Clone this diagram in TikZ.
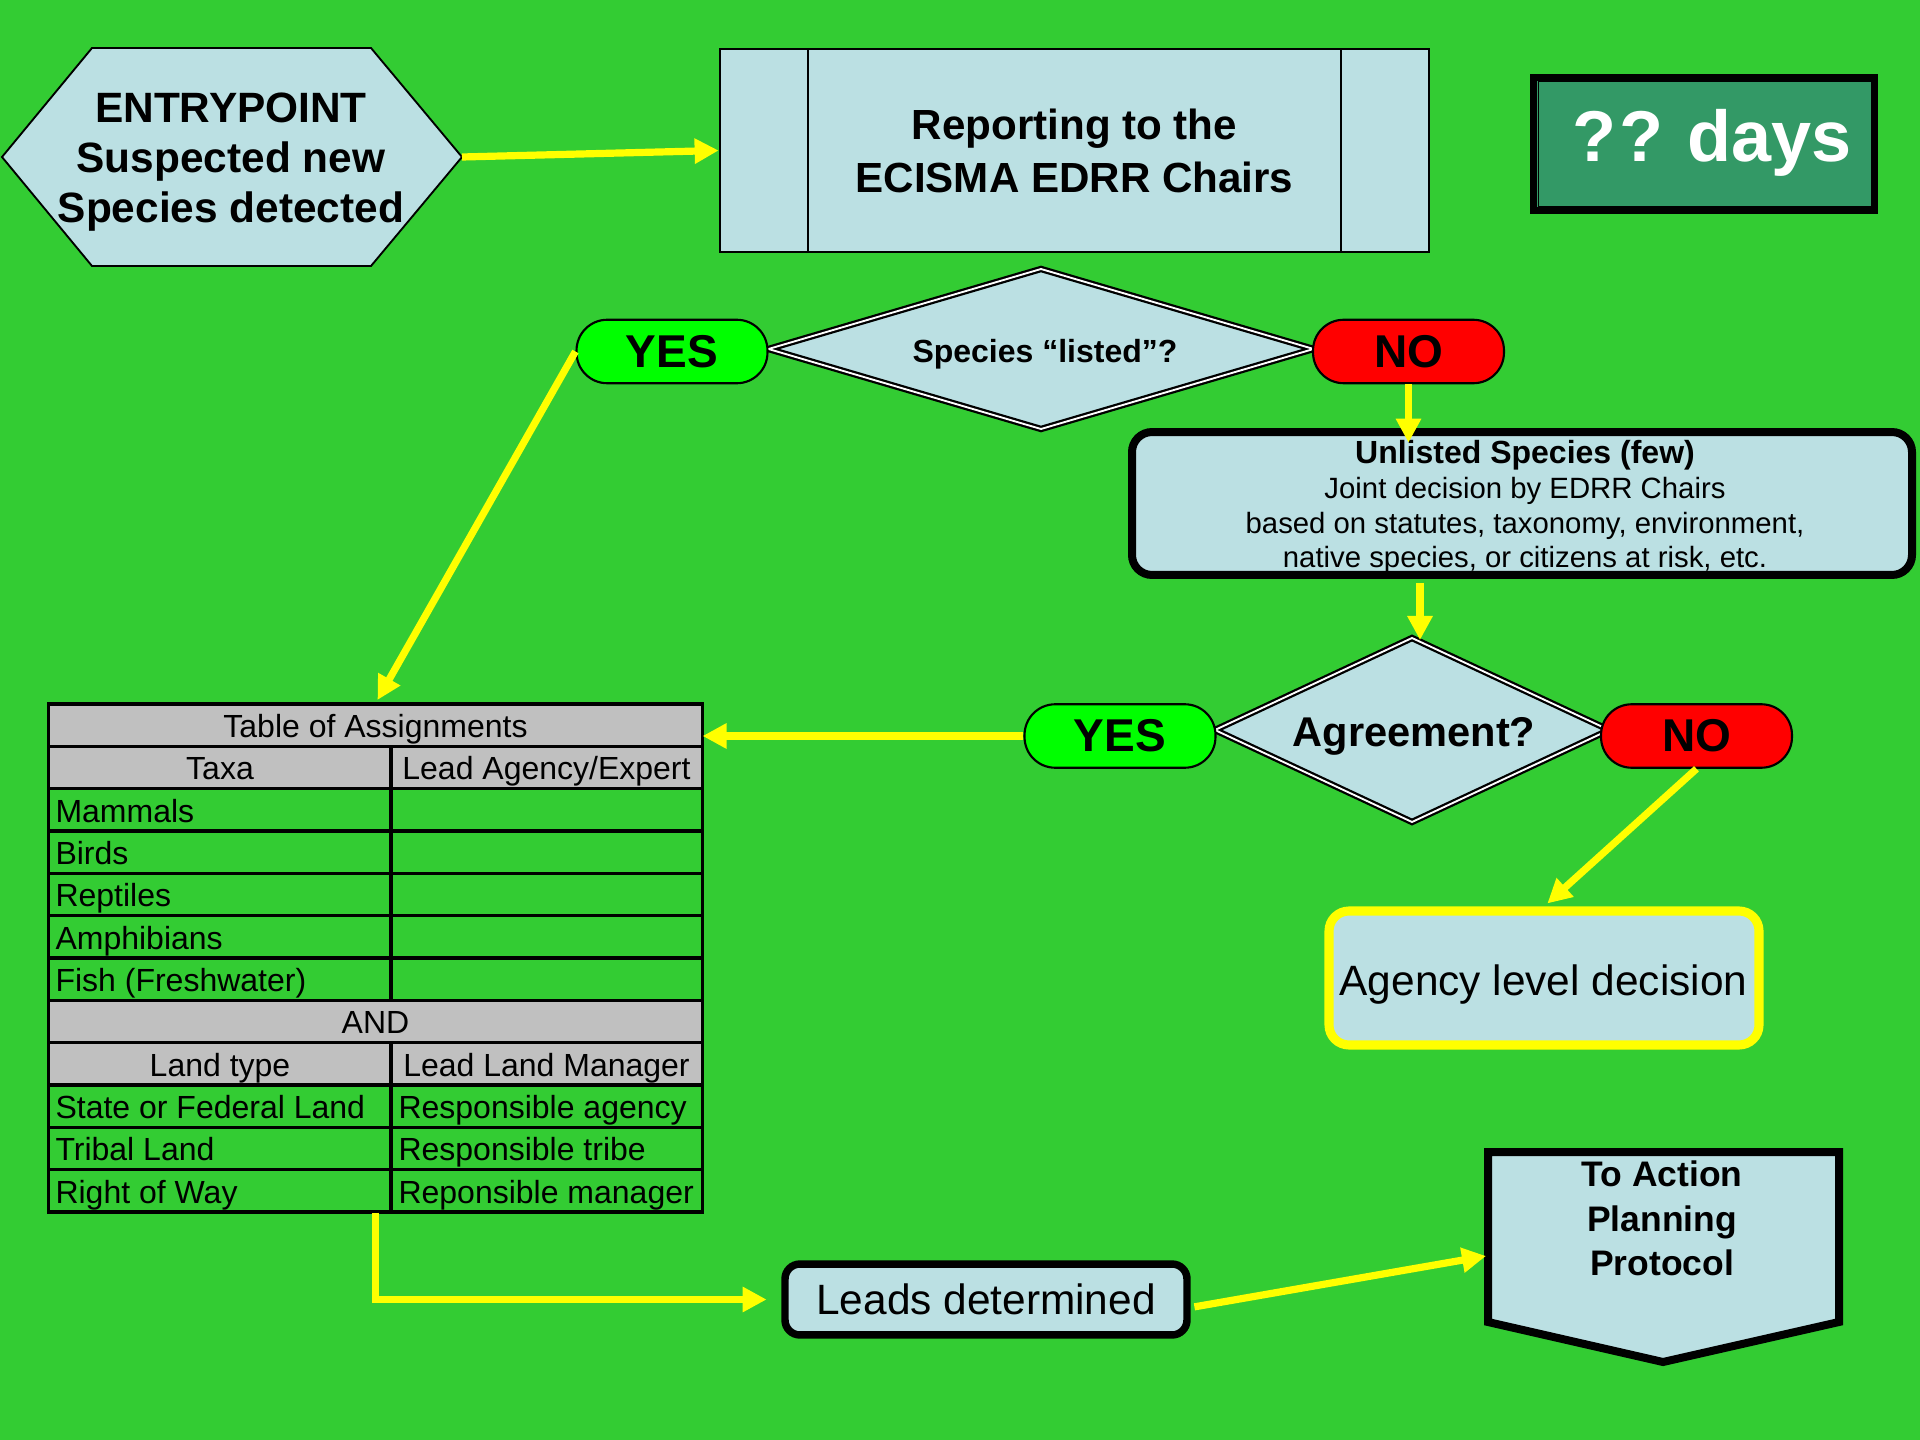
\documentclass[tikz,border=0pt]{standalone}
\usepackage{fontspec}
\setmainfont{Liberation Sans}
\usetikzlibrary{shapes.geometric,arrows.meta,calc}
\definecolor{bg}{HTML}{33CC33}
\definecolor{lblue}{HTML}{BBE0E3}
\definecolor{yesg}{HTML}{00FF00}
\definecolor{nored}{HTML}{FF0000}
\definecolor{tgray}{HTML}{C0C0C0}
\definecolor{ayel}{HTML}{FFFF00}
\definecolor{dgreen}{HTML}{339966}
\tikzset{
  arr/.style={draw=ayel, line width=2.7pt, -{Triangle[length=9pt,width=9pt]}},
  pill/.style={draw=black, line width=0.8pt, rounded corners=11.5pt, minimum width=71.6pt, minimum height=23.8pt, inner sep=0pt, font=\fontsize{17.25}{20}\selectfont\bfseries},
  yespill/.style={pill, fill=yesg},
  nopill/.style={pill, fill=nored},
  decide/.style={shape=diamond, draw=black, double=white, double distance=0.7pt, line width=0.85pt, fill=lblue, inner sep=0pt, outer sep=0pt},
  cell/.style={inner sep=0pt, font=\fontsize{12}{14}\selectfont},
  tline/.style={draw=black, line width=1.2pt},
}
\begin{document}
\begin{tikzpicture}[x=0.375pt,y=-0.375pt]
\useasboundingbox (0,0) rectangle (1920,1440);
\fill[bg] (0,0) rectangle (1920,1440);

% Entry hexagon
\draw[fill=lblue, line width=0.7pt] (2,157) -- (92,48) -- (371,48) -- (462,157) -- (371,266) -- (92,266) -- cycle;
\coordinate (hexR) at (462,157);
\node[align=center, inner sep=0pt, font=\fontsize{15.9}{18.8}\selectfont\bfseries] (entry) at (231,162) {ENTRYPOINT\\Suspected new\\Species detected};

% Reporting box
\node[draw=black, line width=1pt, fill=lblue, minimum width=265.9pt, minimum height=76.1pt, inner sep=0pt, align=center, font=\fontsize{15.8}{19.9}\selectfont\bfseries] (rep) at (1074.5,150.5) {Reporting to the\\ECISMA EDRR Chairs};
\draw[line width=1pt] (808,49) -- (808,252);
\draw[line width=1pt] (1341,49) -- (1341,252);

% ?? days
\node[draw=black, line width=2.6pt, fill=dgreen, minimum width=127.9pt, minimum height=49.9pt, inner sep=0pt] (daysbox) at (1704,144) {};
\draw[line width=0.5pt] ($(daysbox.north west)+(8.5,7.5)$) rectangle ($(daysbox.south east)+(-6.5,-7.5)$);
\node[anchor=base, text=white, inner sep=0pt, font=\fontsize{27}{30}\selectfont\bfseries] (days) at (1712,162) {?\kern1pt?\kern-1pt{} days};

% Decision 1
\node[decide, minimum width=204.4pt, minimum height=60pt] (dec1) at (1041,349) {};
\node[inner sep=0pt, font=\fontsize{12}{14}\selectfont\bfseries] (dec1text) at (1045,354) {Species “listed”?};
\node[yespill] (yes1) at (672,351.5) {YES};
\node[nopill] (no1) at (1408.5,351.5) {NO};

% Unlisted box
\node[draw=black, line width=3pt, fill=lblue, rounded corners=7.5pt, minimum width=292.5pt, minimum height=53.6pt, inner sep=0pt] (unl) at (1522,503.5) {};
\node[align=center, inner sep=0pt, font=\fontsize{11}{13.1}\selectfont] (unltext) at (1525,507) {{\fontsize{12}{13.1}\selectfont\bfseries Unlisted Species (few)}\\Joint decision by EDRR Chairs\\based on statutes, taxonomy, environment,\\native species, or citizens at risk, etc.};

% Decision 2
\node[decide, minimum width=147.8pt, minimum height=69pt] (dec2) at (1412,730) {};
\node[inner sep=0pt, font=\fontsize{15.6}{18}\selectfont\bfseries] (dec2text) at (1414,736) {Agreement?};
\node[yespill] (yes2) at (1120,736) {YES};
\node[nopill] (no2) at (1696.5,736) {NO};
\coordinate (agrtop) at (1420,640);

% Agency box
\node[draw=ayel, line width=3.4pt, fill=lblue, rounded corners=7.5pt, minimum width=161.25pt, minimum height=50.25pt, inner sep=0pt] (agency) at (1544,978) {};
\node[anchor=base, inner sep=0pt, font=\fontsize{15.9}{19}\selectfont] (agencytext) at (1543.5,995) {Agency level decision};

% Table
\node[minimum width=244.9pt, minimum height=190.5pt, inner sep=0pt] (table) at (375.5,958) {};
\fill[tgray] (48.5,704) rectangle (702.5,788.7);
\fill[tgray] (48.5,1000.3) rectangle (702.5,1085);
\foreach \yy in {746.3,788.7,831,873.3,915.7,958,1000.3,1042.7,1085,1127.3,1169.7}
  \draw[tline] (48.5,\yy) -- (702.5,\yy);
\draw[tline] (391,746.3) -- (391,1000.3);
\draw[tline] (391,1042.7) -- (391,1212);
\draw[tline, line width=1.4pt] (48.5,704) rectangle (702.5,1212);
\node[cell, anchor=base] (tT) at (375.5,737.3) {Table of Assignments};
\node[cell, anchor=base] (tTaxa) at (220,779.7) {Taxa};
\node[cell, anchor=base] (tLead) at (546.5,779.7) {Lead Agency/Expert};
\node[cell, anchor=base west] (tM) at (55,822) {Mammals};
\node[cell, anchor=base west] (tB) at (55,864.3) {Birds};
\node[cell, anchor=base west] (tR) at (55,906.7) {Reptiles};
\node[cell, anchor=base west] (tA) at (55,949) {Amphibians};
\node[cell, anchor=base west] (tF) at (55,991.3) {Fish (Freshwater)};
\node[cell, anchor=base] (tAND) at (375.5,1033.7) {AND};
\node[cell, anchor=base] (tLand) at (220,1076) {Land type};
\node[cell, anchor=base] (tLLM) at (546.5,1076) {Lead Land Manager};
\node[cell, anchor=base west] (tS) at (55,1118.3) {State or Federal Land};
\node[cell, anchor=base west] (tSa) at (398,1118.3) {Responsible agency};
\node[cell, anchor=base west] (tTr) at (55,1160.7) {Tribal Land};
\node[cell, anchor=base west] (tTrb) at (398,1160.7) {Responsible tribe};
\node[cell, anchor=base west] (tRw) at (55,1203) {Right of Way};
\node[cell, anchor=base west] (tRm) at (398,1203) {Reponsible manager};

% Leads box
\node[draw=black, line width=2.8pt, fill=lblue, rounded corners=5.6pt, minimum width=150.75pt, minimum height=26.6pt, inner sep=0pt, font=\fontsize{15.9}{19}\selectfont] (leads) at (986,1299.5) {Leads determined};

% Action shape
\draw[fill=lblue, line width=3pt, line join=miter] (1488,1152) -- (1839,1152) -- (1839,1322) -- (1663,1362) -- (1488,1322) -- cycle;
\coordinate (actW) at (1486,1256);
\node[align=center, inner sep=0pt, font=\fontsize{13.3}{16.7}\selectfont\bfseries] (action) at (1662,1218.5) {To Action\\Planning\\Protocol};

% Connectors
\draw[arr] (hexR) -- (rep.west);
\draw[arr, shorten >=1.5pt] (yes1.west) -- (table.north);
\draw[arr] (no1.south) -- ([yshift=-5.5pt]unl.north -| no1.south);
\draw[arr, shorten <=1.5pt] (unl.south -| agrtop) -- (agrtop);
\draw[arr] (yes2.west) -- (yes2.west -| table.east);
\draw[arr, shorten >=1.7pt] (no2.south) -- (agency.north);
\draw[arr, shorten >=5.5pt] (table.south) |- (leads.west);
\draw[arr, shorten <=1.4pt] ([yshift=-3pt]leads.east) -- (actW);
\end{tikzpicture}
\end{document}
